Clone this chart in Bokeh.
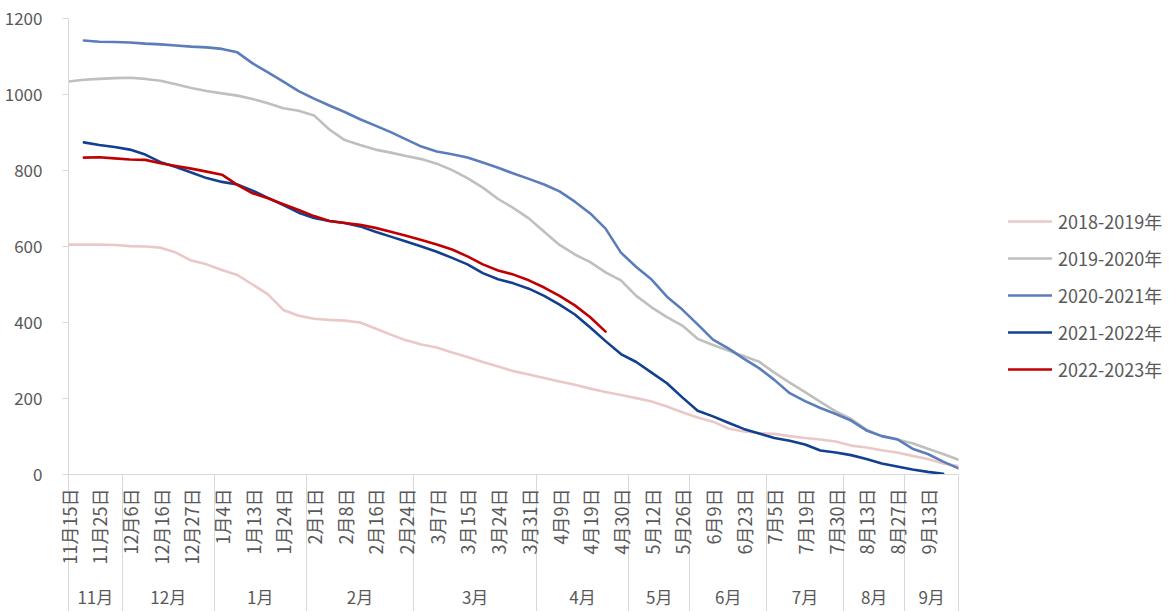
import numpy as np
from bokeh.plotting import figure
from bokeh.models import Range1d, FixedTicker, LinearAxis, Legend, LegendItem
from bokeh.embed import file_html
from bokeh.resources import INLINE

# ---------------- data ----------------
dates = ["11月15日", "11月19日", "11月25日", "11月29日", "12月6日", "12月10日", "12月16日", "12月20日",
         "12月27日", "12月30日", "1月4日", "1月8日", "1月13日", "1月18日", "1月24日", "1月28日",
         "2月1日", "2月4日", "2月8日", "2月12日", "2月16日", "2月20日", "2月24日", "3月2日",
         "3月7日", "3月11日", "3月15日", "3月19日", "3月24日", "3月28日", "3月31日", "4月4日",
         "4月9日", "4月14日", "4月19日", "4月24日", "4月30日", "5月5日", "5月12日", "5月19日",
         "5月26日", "6月2日", "6月9日", "6月16日", "6月23日", "6月30日", "7月5日", "7月12日",
         "7月19日", "7月26日", "7月30日", "8月6日", "8月13日", "8月20日", "8月27日", "9月3日",
         "9月13日", "9月20日", "9月27日"]

series_names = ["2018-2019年", "2019-2020年", "2020-2021年", "2021-2022年", "2022-2023年"]

s2018 = [605, 605, 605, 604, 601, 600, 597, 584, 563, 553,
         538, 525, 500, 474, 433, 418, 410, 407, 405, 400,
         384, 368, 353, 342, 334, 321, 309, 296, 284, 272,
         263, 254, 245, 236, 226, 217, 209, 201, 192, 179,
         164, 150, 139, 121, 113, 109, 107, 101, 96, 92,
         87, 76, 71, 64, 58, 49, 41, 29, 22]

s2019 = [1034, 1039, 1041, 1043, 1044, 1041, 1036, 1027, 1017, 1009,
         1003, 997, 988, 977, 964, 957, 945, 908, 880, 867,
         855, 847, 838, 830, 818, 801, 780, 755, 725, 701,
         674, 639, 604, 579, 559, 532, 511, 470, 440, 414,
         392, 357, 341, 326, 312, 297, 268, 242, 217, 191,
         166, 146, 118, 101, 92, 82, 68, 54, 39]

s2020 = [None, 1142, 1139, 1138, 1137, 1134, 1132, 1129, 1126, 1124,
         1120, 1111, 1082, 1058, 1034, 1009, 989, 971, 954, 935,
         918, 901, 882, 863, 850, 843, 834, 821, 807, 792,
         778, 763, 745, 718, 687, 647, 584, 546, 513, 468,
         434, 395, 355, 332, 305, 280, 249, 214, 193, 175,
         159, 142, 116, 101, 93, 68, 54, 34, 16]

s2021 = [None, 874, 867, 862, 855, 842, 822, 809, 795, 780,
         770, 763, 747, 728, 709, 689, 675, 667, 662, 653,
         639, 626, 613, 600, 586, 570, 553, 530, 514, 503,
         489, 470, 447, 421, 387, 351, 317, 296, 268, 240,
         203, 168, 153, 136, 120, 108, 96, 89, 79, 63,
         58, 51, 41, 29, 21, 13, 7, 2, None]

s2022 = [None, 834, 835, 832, 829, 828, 819, 812, 805, 797,
         789, 762, 740, 727, 711, 696, 680, 667, 662, 657,
         649, 639, 628, 617, 605, 592, 574, 553, 537, 526,
         511, 492, 470, 445, 414, 376, None, None, None, None,
         None, None, None, None, None, None, None, None, None, None,
         None, None, None, None, None, None, None, None, None]

y_ticks = [0, 200, 400, 600, 800, 1000, 1200]

# ---------------- styles ----------------
colors = ["#EBC8C8", "#BFBFBF", "#5B7DBB", "#123F8F", "#C00000"]
FONT = "Noto Sans CJK SC"
TXT = "#595959"
GRID = "#D9D9D9"
FS = "17px"

N = len(dates)
x = np.arange(N)
months = [d.split("月")[0] + "月" for d in dates]

# month groups -> boundaries and centres
groups = []
for i, m in enumerate(months):
    if not groups or groups[-1][0] != m:
        groups.append([m, i, i])
    else:
        groups[-1][2] = i
bounds = [0.0]
for a, b in zip(groups[:-1], groups[1:]):
    bounds.append((a[2] + b[1]) / 2.0)
bounds.append(float(N - 1))
centers = [(bounds[k] + bounds[k + 1]) / 2.0 for k in range(len(groups))]

p = figure(frame_width=890, frame_height=456,
           x_range=Range1d(0, N - 1), y_range=Range1d(0, 1200),
           x_axis_type=None, output_backend="svg", toolbar_location=None,
           min_border_left=68, min_border_right=212, min_border_top=18,
           min_border_bottom=0)
p.outline_line_color = None
p.xgrid.visible = False
p.ygrid.visible = False

# y axis
ya = p.yaxis[0]
ya.ticker = FixedTicker(ticks=y_ticks)
ya.axis_line_color = GRID
ya.major_tick_line_color = GRID
ya.major_tick_out = 6
ya.major_tick_in = 0
ya.minor_tick_line_color = None
ya.major_label_text_font = FONT
ya.major_label_text_font_size = FS
ya.major_label_text_color = TXT
ya.major_label_standoff = 20

# date axis (separators are its long minor ticks)
lab_idx = list(range(0, N - 1, 2))
ax1 = LinearAxis(ticker=FixedTicker(ticks=lab_idx, minor_ticks=bounds))
ax1.major_label_overrides = {i: dates[i] for i in lab_idx}
ax1.major_label_orientation = np.pi / 2
ax1.major_tick_line_color = None
ax1.major_tick_out = 0
ax1.major_tick_in = 0
ax1.minor_tick_line_color = GRID
ax1.minor_tick_out = 100
ax1.minor_tick_in = 0
ax1.axis_line_color = GRID
ax1.major_label_standoff = -86
ax1.major_label_text_font = FONT
ax1.major_label_text_font_size = "18px"
ax1.major_label_text_color = TXT
p.add_layout(ax1, "below")

# month axis
ax2 = LinearAxis(ticker=FixedTicker(ticks=centers, minor_ticks=bounds))
ax2.major_label_overrides = {c: g[0] for c, g in zip(centers, groups)}
ax2.axis_line_color = None
ax2.major_tick_line_color = None
ax2.major_tick_out = 0
ax2.major_tick_in = 0
ax2.minor_tick_line_color = GRID
ax2.minor_tick_out = 60
ax2.minor_tick_in = 0
ax2.major_label_standoff = -44
ax2.major_label_text_font = FONT
ax2.major_label_text_font_size = FS
ax2.major_label_text_color = TXT
p.add_layout(ax2, "below")

items = []
for name, vals, col in zip(series_names, [s2018, s2019, s2020, s2021, s2022], colors):
    y = np.array(vals, dtype=float)
    r = p.line(x, y, line_color=col, line_width=2.6, line_join="round", line_cap="round")
    items.append(LegendItem(label=name, renderers=[r]))

legend = Legend(items=items, location=(50, 92), orientation="vertical",
                padding=0, margin=0, spacing=11, glyph_width=44, glyph_height=20,
                label_height=20, label_standoff=6, border_line_color=None,
                background_fill_alpha=0, label_text_font=FONT,
                label_text_font_size="18px", label_text_color=TXT)
p.add_layout(legend, "right")

open("out.html", "w").write(file_html(p, INLINE))
